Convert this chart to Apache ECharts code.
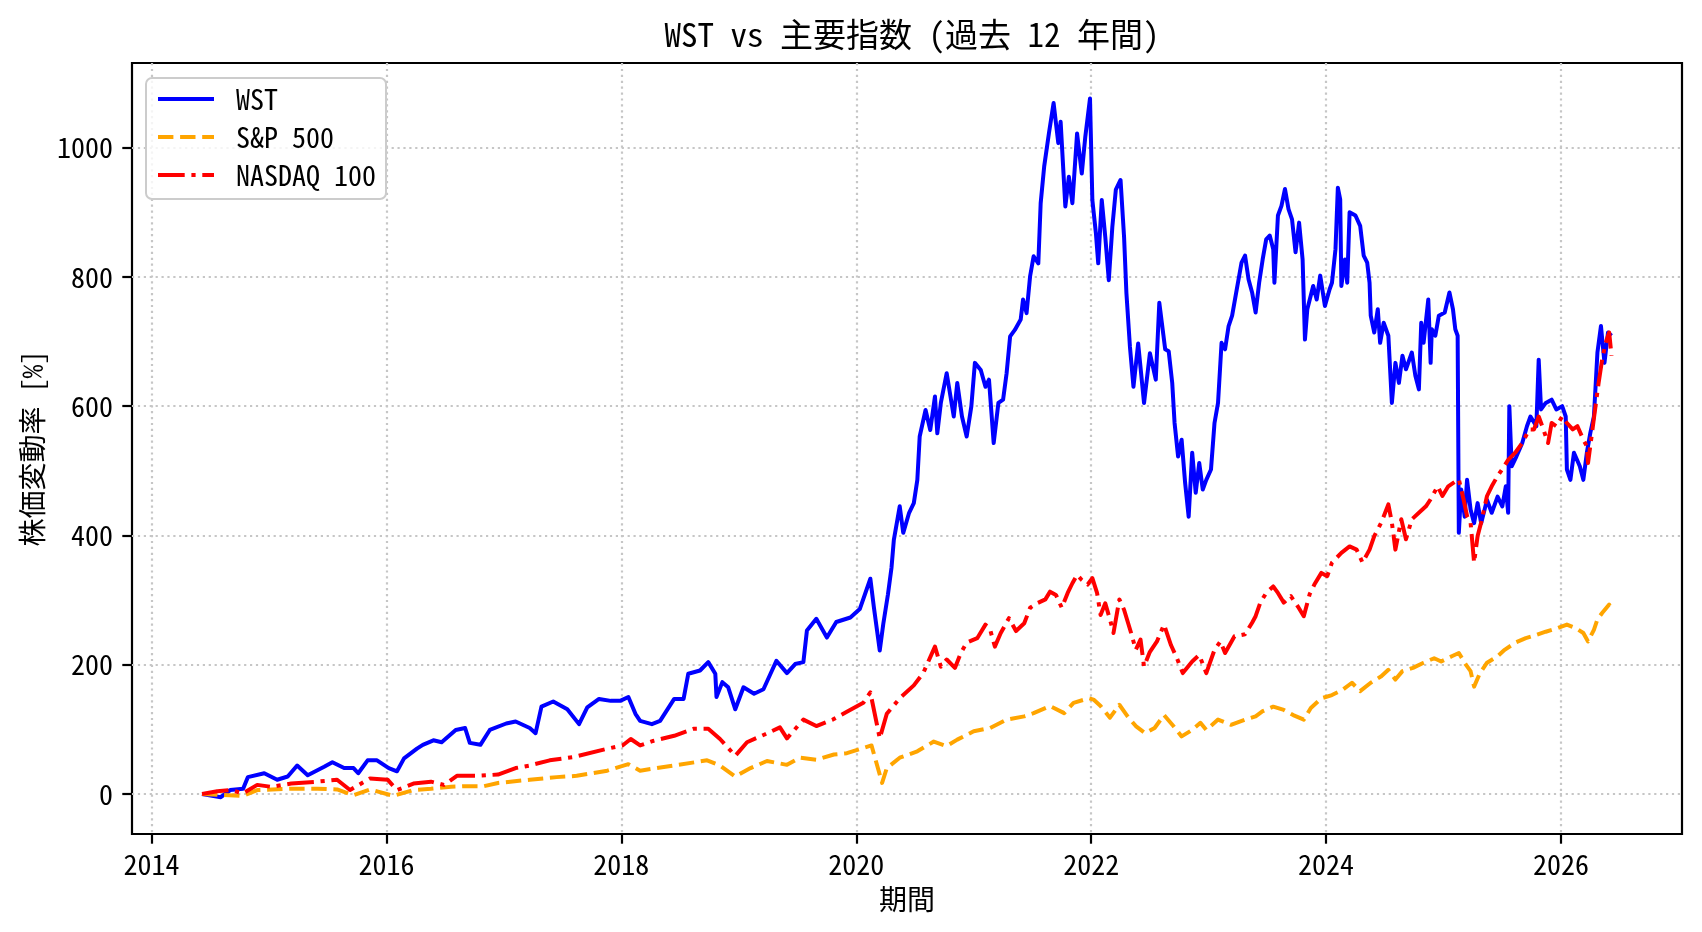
<!DOCTYPE html>
<html>
<head>
<meta charset="utf-8">
<title>WST vs 主要指数</title>
<script src="https://cdn.jsdelivr.net/npm/echarts@6.0.0/dist/echarts.min.js"></script>
<style>
  html, body { margin: 0; padding: 0; background: #fff; }
  #chart { width: 1702px; height: 932px; }
</style>
</head>
<body>
<div id="chart"></div>
<script>
// x values are decimal years, y values are % change from the first day
const wstYears = [
  2014.43, 2014.59, 2014.67, 2014.78, 2014.82, 2014.96, 2015.07, 2015.16, 2015.24, 2015.33,
  2015.47, 2015.54, 2015.64, 2015.72, 2015.76, 2015.84, 2015.92, 2016.02, 2016.09, 2016.15,
  2016.26, 2016.31, 2016.40, 2016.47, 2016.59, 2016.67, 2016.71, 2016.80, 2016.88, 2017.02,
  2017.10, 2017.22, 2017.27, 2017.32, 2017.42, 2017.54, 2017.64, 2017.71, 2017.81, 2017.91,
  2017.99, 2018.06, 2018.12, 2018.16, 2018.26, 2018.33, 2018.45, 2018.53, 2018.57, 2018.67,
  2018.74, 2018.80, 2018.81, 2018.86, 2018.91, 2018.97, 2019.04, 2019.13, 2019.21, 2019.27,
  2019.32, 2019.41, 2019.48, 2019.55, 2019.58, 2019.66, 2019.75, 2019.83, 2019.95, 2020.03,
  2020.12, 2020.15, 2020.20, 2020.23, 2020.27, 2020.30, 2020.32, 2020.35, 2020.37, 2020.40,
  2020.45, 2020.49, 2020.52, 2020.54, 2020.59, 2020.63, 2020.67, 2020.69, 2020.72, 2020.77,
  2020.83, 2020.86, 2020.90, 2020.94, 2020.98, 2021.01, 2021.06, 2021.10, 2021.13, 2021.17,
  2021.21, 2021.25, 2021.28, 2021.31, 2021.35, 2021.40, 2021.42, 2021.45, 2021.48, 2021.51,
  2021.55, 2021.57, 2021.60, 2021.64, 2021.68, 2021.72, 2021.74, 2021.78, 2021.81, 2021.84,
  2021.88, 2021.92, 2021.95, 2021.99, 2022.01, 2022.04, 2022.06, 2022.09, 2022.12, 2022.15,
  2022.18, 2022.21, 2022.25, 2022.28, 2022.30, 2022.33, 2022.36, 2022.40, 2022.45, 2022.50,
  2022.55, 2022.58, 2022.63, 2022.66, 2022.69, 2022.71, 2022.74, 2022.77, 2022.80, 2022.83,
  2022.86, 2022.89, 2022.92, 2022.95, 2022.98, 2023.02, 2023.05, 2023.08, 2023.11, 2023.14,
  2023.17, 2023.20, 2023.23, 2023.28, 2023.31, 2023.34, 2023.37, 2023.40, 2023.43, 2023.46,
  2023.49, 2023.52, 2023.55, 2023.56, 2023.59, 2023.62, 2023.65, 2023.68, 2023.71, 2023.74,
  2023.77, 2023.80, 2023.82, 2023.84, 2023.89, 2023.92, 2023.95, 2023.99, 2024.03, 2024.05,
  2024.08, 2024.10, 2024.12, 2024.13, 2024.16, 2024.18, 2024.20, 2024.25, 2024.29, 2024.32,
  2024.35, 2024.37, 2024.38, 2024.41, 2024.44, 2024.46, 2024.49, 2024.53, 2024.56, 2024.59,
  2024.62, 2024.65, 2024.68, 2024.73, 2024.76, 2024.79, 2024.81, 2024.83, 2024.87, 2024.89,
  2024.90, 2024.93, 2024.96, 2025.01, 2025.05, 2025.08, 2025.10, 2025.12, 2025.13, 2025.15,
  2025.18, 2025.20, 2025.23, 2025.26, 2025.29, 2025.32, 2025.37, 2025.41, 2025.46, 2025.50,
  2025.53, 2025.55, 2025.56, 2025.58, 2025.62, 2025.67, 2025.71, 2025.74, 2025.79, 2025.81,
  2025.83, 2025.87, 2025.92, 2025.96, 2026.01, 2026.04, 2026.05, 2026.08, 2026.11, 2026.16,
  2026.19, 2026.22, 2026.25, 2026.28, 2026.31, 2026.34, 2026.37, 2026.40, 2026.43
];
const wstValues = [
  0, -5, 6, 8, 26, 32, 22, 27, 44, 29,
  42, 49, 40, 40, 32, 52, 52, 40, 35, 55,
  70, 76, 83, 80, 99, 102, 79, 76, 99, 109,
  112, 102, 94, 135, 143, 131, 108, 134, 147, 144,
  144, 150, 124, 113, 108, 113, 147, 147, 186, 191,
  204, 186, 150, 173, 165, 131, 165, 155, 162, 186,
  206, 187, 201, 204, 253, 271, 242, 266, 273, 286,
  333, 289, 222, 263, 309, 350, 393, 424, 445, 404,
  435, 450, 486, 553, 594, 563, 615, 558, 605, 651,
  584, 636, 584, 553, 600, 667, 656, 630, 641, 543,
  605, 610, 651, 708, 718, 734, 765, 744, 801, 832,
  821, 914, 971, 1022, 1069, 1007, 1040, 909, 955, 914,
  1022, 960, 1017, 1076, 919, 868, 821, 919, 862, 795,
  877, 935, 950, 862, 775, 692, 630, 697, 605, 682,
  641, 760, 688, 685, 636, 574, 522, 548, 481, 429,
  528, 466, 512, 471, 486, 502, 574, 605, 698, 688,
  724, 740, 771, 822, 833, 796, 776, 745, 791, 827,
  858, 864, 843, 791, 895, 910, 936, 905, 889, 838,
  884, 827, 703, 750, 786, 765, 802, 755, 781, 791,
  843, 938, 920, 786, 827, 791, 900, 895, 879, 833,
  822, 791, 740, 714, 750, 698, 729, 709, 605, 667,
  636, 678, 657, 683, 647, 626, 729, 698, 765, 667,
  719, 709, 740, 745, 776, 750, 719, 709, 404, 471,
  429, 486, 440, 419, 450, 419, 455, 435, 460, 445,
  476, 435, 600, 507, 522, 543, 569, 584, 569, 672,
  595, 605, 610, 595, 600, 584, 502, 486, 528, 507,
  486, 528, 559, 584, 683, 724, 667, 714, 709
];

const spYears = [
  2014.43, 2014.78, 2014.90, 2015.19, 2015.41, 2015.58, 2015.72, 2015.86, 2016.06, 2016.23,
  2016.38, 2016.55, 2016.66, 2016.83, 2016.95, 2017.22, 2017.45, 2017.62, 2017.88, 2018.06,
  2018.16, 2018.45, 2018.73, 2018.84, 2018.97, 2019.10, 2019.24, 2019.41, 2019.52, 2019.66,
  2019.81, 2019.92, 2020.06, 2020.13, 2020.22, 2020.26, 2020.37, 2020.52, 2020.66, 2020.77,
  2020.86, 2021.00, 2021.14, 2021.28, 2021.43, 2021.51, 2021.65, 2021.77, 2021.85, 2021.98,
  2022.02, 2022.08, 2022.16, 2022.24, 2022.31, 2022.38, 2022.46, 2022.54, 2022.62, 2022.70,
  2022.77, 2022.86, 2022.93, 2022.98, 2023.08, 2023.19, 2023.31, 2023.40, 2023.46, 2023.55,
  2023.64, 2023.72, 2023.81, 2023.87, 2023.96, 2024.05, 2024.14, 2024.22, 2024.29, 2024.38,
  2024.47, 2024.53, 2024.59, 2024.65, 2024.74, 2024.83, 2024.92, 2024.98, 2025.07, 2025.13,
  2025.19, 2025.23, 2025.26, 2025.31, 2025.37, 2025.46, 2025.52, 2025.61, 2025.70, 2025.79,
  2025.87, 2025.96, 2026.05, 2026.13, 2026.19, 2026.23, 2026.28, 2026.31, 2026.35, 2026.41,
  2026.43
];
const spValues = [
  0, -3, 6, 8, 8, 7, -2, 7, -3, 6,
  8, 11, 12, 12, 17, 22, 26, 28, 36, 46,
  36, 44, 52, 44, 27, 40, 51, 45, 56, 53,
  61, 63, 71, 75, 17, 40, 56, 66, 81, 74,
  84, 97, 102, 115, 120, 125, 136, 125, 141, 148,
  146, 136, 118, 138, 120, 105, 94, 102, 122, 105,
  89, 99, 110, 99, 115, 107, 115, 120, 128, 135,
  130, 122, 115, 133, 148, 153, 161, 172, 159, 172,
  182, 192, 177, 190, 195, 203, 210, 205, 213, 218,
  200, 190, 166, 187, 203, 213, 223, 234, 241, 246,
  251, 256, 262, 256, 249, 236, 254, 270, 280, 293,
  283
];

const ndxYears = [
  2014.43, 2014.56, 2014.67, 2014.78, 2014.90, 2015.02, 2015.19, 2015.41, 2015.58, 2015.69,
  2015.86, 2016.01, 2016.09, 2016.23, 2016.38, 2016.49, 2016.60, 2016.77, 2016.95, 2017.10,
  2017.22, 2017.39, 2017.59, 2017.88, 2018.01, 2018.08, 2018.16, 2018.27, 2018.45, 2018.62,
  2018.74, 2018.84, 2018.97, 2019.07, 2019.22, 2019.35, 2019.41, 2019.55, 2019.66, 2019.80,
  2019.92, 2020.06, 2020.12, 2020.20, 2020.26, 2020.37, 2020.49, 2020.57, 2020.67, 2020.72,
  2020.77, 2020.84, 2020.89, 2020.94, 2021.03, 2021.10, 2021.14, 2021.18, 2021.23, 2021.30,
  2021.36, 2021.43, 2021.48, 2021.54, 2021.61, 2021.65, 2021.70, 2021.75, 2021.80, 2021.84,
  2021.88, 2021.92, 2021.97, 2022.01, 2022.05, 2022.08, 2022.12, 2022.16, 2022.19, 2022.24,
  2022.28, 2022.34, 2022.38, 2022.42, 2022.45, 2022.50, 2022.56, 2022.62, 2022.68, 2022.73,
  2022.78, 2022.86, 2022.92, 2022.98, 2023.05, 2023.10, 2023.14, 2023.22, 2023.31, 2023.37,
  2023.40, 2023.44, 2023.49, 2023.55, 2023.59, 2023.64, 2023.70, 2023.76, 2023.81, 2023.86,
  2023.90, 2023.96, 2024.01, 2024.05, 2024.13, 2024.20, 2024.26, 2024.31, 2024.37, 2024.41,
  2024.47, 2024.53, 2024.56, 2024.59, 2024.64, 2024.68, 2024.73, 2024.79, 2024.85, 2024.89,
  2024.95, 2024.99, 2025.04, 2025.08, 2025.13, 2025.17, 2025.20, 2025.23, 2025.26, 2025.29,
  2025.32, 2025.37, 2025.41, 2025.46, 2025.49, 2025.55, 2025.61, 2025.67, 2025.73, 2025.77,
  2025.81, 2025.84, 2025.89, 2025.92, 2025.96, 2026.01, 2026.05, 2026.10, 2026.14, 2026.19,
  2026.22, 2026.23, 2026.26, 2026.29, 2026.32, 2026.35, 2026.38, 2026.41, 2026.43
];
const ndxValues = [
  0, 4, 6, 1, 14, 11, 16, 19, 22, 6,
  24, 22, 6, 16, 19, 14, 28, 28, 30, 40,
  44, 52, 57, 70, 75, 85, 75, 82, 90, 101,
  101, 85, 59, 80, 92, 103, 86, 115, 105, 115,
  127, 141, 157, 86, 124, 148, 168, 187, 228, 197,
  208, 195, 218, 234, 241, 262, 254, 228, 249, 272,
  252, 264, 288, 295, 301, 313, 308, 288, 311, 326,
  339, 331, 324, 334, 311, 277, 295, 270, 249, 301,
  285, 249, 223, 239, 197, 220, 236, 262, 230, 210,
  187, 205, 215, 187, 223, 236, 218, 244, 247, 265,
  275, 296, 311, 321, 311, 296, 306, 290, 275, 309,
  324, 342, 337, 358, 373, 383, 378, 358, 378, 399,
  420, 448, 420, 378, 425, 394, 425, 435, 445, 456,
  476, 461, 476, 481, 487, 456, 430, 420, 358, 399,
  420, 461, 476, 492, 500, 517, 528, 543, 564, 564,
  584, 569, 543, 574, 569, 584, 574, 564, 569, 548,
  538, 512, 553, 595, 636, 672, 698, 714, 678
];

const seriesNames = ['WST', 'S&P 500', 'NASDAQ 100'];
const xTicks = [2014, 2016, 2018, 2020, 2022, 2024, 2026];
const yTicks = [0, 200, 400, 600, 800, 1000];

const FONT = "'Noto Sans Mono CJK JP', 'Noto Sans CJK JP', sans-serif";

function pairs(xs, ys) {
  if (xs.length !== ys.length) console.warn('length mismatch', xs.length, ys.length);
  return xs.map((x, i) => [x, ys[i]]);
}

const chart = echarts.init(document.getElementById('chart'), null, { renderer: 'canvas' });

const gridLine = { color: '#c6c6c6', width: 2.2, type: [2.2, 3.7] };
const tickStyle = { color: '#000', width: 2.2 };

const option = {
  animation: false,
  backgroundColor: '#fff',
  title: {
    text: 'WST vs 主要指数 (過去 12 年間)',
    left: 907,
    top: 9,
    textAlign: 'center',
    textStyle: { fontFamily: FONT, fontSize: 33, fontWeight: 'normal', color: '#000', lineHeight: 40 }
  },
  grid: {
    left: 132, right: 20, top: 63, bottom: 98,
    show: true, borderColor: '#000', borderWidth: 2.2, backgroundColor: 'transparent'
  },
  legend: {
    data: seriesNames,
    orient: 'vertical',
    left: 146,
    top: 78,
    padding: [7, 10, 10, 10],
    itemWidth: 56,
    itemHeight: 14,
    itemGap: 10,
    backgroundColor: 'rgba(255,255,255,0.8)',
    borderColor: '#cccccc',
    borderWidth: 2,
    borderRadius: 6,
    itemStyle: { opacity: 0 },
    lineStyle: { width: 'inherit' },
    textStyle: { fontFamily: FONT, fontSize: 28, lineHeight: 28, color: '#000', padding: [0, 0, 0, 17] }
  },
  xAxis: {
    type: 'value',
    min: 2013.834,
    max: 2027.03,
    name: '期間',
    nameLocation: 'middle',
    nameGap: 51,
    nameTextStyle: { fontFamily: FONT, fontSize: 28, color: '#000' },
    axisLine: { show: false, onZero: false },
    axisTick: { show: true, length: 9.7, lineStyle: tickStyle, customValues: xTicks },
    axisLabel: {
      customValues: xTicks,
      formatter: v => String(Math.round(v)),
      fontFamily: FONT, fontSize: 28, color: '#000', margin: 16
    },
    splitLine: { show: true, lineStyle: gridLine }
  },
  yAxis: {
    type: 'value',
    min: -62,
    max: 1131,
    name: '株価変動率 [%]',
    nameLocation: 'middle',
    nameGap: 77,
    nameTextStyle: { fontFamily: FONT, fontSize: 28, color: '#000' },
    axisLine: { show: false, onZero: false },
    axisTick: { show: true, length: 9.7, lineStyle: tickStyle, customValues: yTicks },
    axisLabel: {
      customValues: yTicks,
      formatter: v => String(Math.round(v)),
      fontFamily: FONT, fontSize: 28, color: '#000', margin: 19
    },
    splitLine: { show: true, lineStyle: gridLine }
  },
  series: [
    {
      name: 'WST', type: 'line', data: pairs(wstYears, wstValues),
      symbol: 'none', showSymbol: false,
      lineStyle: { color: '#0000ff', width: 4, cap: 'butt', join: 'round' },
      itemStyle: { color: '#0000ff' }
    },
    {
      name: 'S&P 500', type: 'line', data: pairs(spYears, spValues),
      symbol: 'none', showSymbol: false,
      lineStyle: { color: '#ffa500', width: 4, type: [15.4, 6.7], cap: 'butt', join: 'round' },
      itemStyle: { color: '#ffa500' }
    },
    {
      name: 'NASDAQ 100', type: 'line', data: pairs(ndxYears, ndxValues),
      symbol: 'none', showSymbol: false,
      lineStyle: { color: '#ff0000', width: 4, type: [26.7, 6.7, 4.2, 6.7], cap: 'butt', join: 'round' },
      itemStyle: { color: '#ff0000' }
    }
  ]
};

chart.setOption(option);
window.onresize = function () {
  chart.resize();
};
</script>
</body>
</html>
